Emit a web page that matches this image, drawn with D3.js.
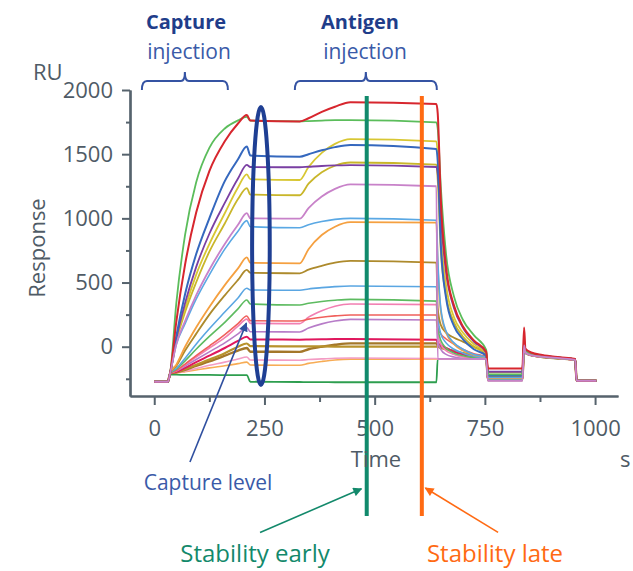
<!DOCTYPE html>
<html><head><meta charset="utf-8">
<script src="https://cdn.jsdelivr.net/npm/d3@7"></script>
<style>
html,body{margin:0;padding:0;background:#fff;}
svg{display:block;font-family:"Open Sans",sans-serif;}
</style></head><body>
<svg id="chart" width="633" height="571"></svg>
<script>
// ---- data ----
const times = [0,31,36,50,70,95,125,160,190,210,218,330,350,380,410,445,640,643,650,662,680,700,725,753,757,835,839,842,855,880,920,955,958,1003];

const greenTop   = [-273,-273,-207,337,873,1280,1549,1700,1763,1790,1762,1755,1758,1762,1765,1765,1748,1700,1250,720,390,210,90,-25,-215,-215,60,-30,-55,-70,-85,-98,-265,-265];
const redTop     = [-273,-273,-207,194,641,1044,1368,1600,1739,1805,1762,1755,1780,1830,1870,1905,1890,1820,1150,620,320,160,50,-40,-170,-170,150,-15,-45,-65,-82,-95,-265,-265];
const blueHigh   = [-273,-273,-207,80,410,720,1000,1290,1460,1560,1490,1480,1500,1530,1555,1572,1540,1450,800,380,160,60,-20,-70,-225,-225,30,-35,-58,-72,-86,-99,-265,-265];
const purpleHigh = [-273,-273,-207,60,340,620,880,1120,1310,1416,1400,1398,1402,1408,1412,1415,1400,1350,1000,580,300,150,40,-45,-195,-195,50,-30,-55,-70,-85,-98,-265,-265];
const yellowA    = [-273,-273,-207,50,300,560,800,1040,1240,1343,1305,1299,1400,1510,1580,1617,1600,1500,900,480,230,110,20,-55,-200,-200,40,-32,-56,-71,-86,-99,-265,-265];
const yellowB    = [-273,-273,-207,40,270,500,740,960,1150,1236,1185,1180,1270,1360,1410,1435,1418,1300,750,400,190,80,0,-60,-220,-220,25,-38,-60,-74,-88,-100,-265,-265];
const lightBlueA = [-273,-273,-207,15,180,370,560,760,900,982,935,927,950,975,992,1000,985,700,300,120,30,-20,-60,-85,-240,-240,15,-42,-62,-76,-89,-101,-265,-265];
const orangeA    = [-273,-273,-207,-140,0,150,310,480,610,696,654,650,760,870,935,970,966,650,280,110,20,-30,-65,-88,-245,-245,10,-44,-63,-77,-90,-101,-265,-265];
const oliveA     = [-273,-273,-207,-150,-30,100,250,400,520,598,575,572,600,630,655,668,655,300,170,110,70,40,0,-50,-235,-235,20,-40,-60,-75,-88,-100,-265,-265];
const lightBlueB = [-273,-273,-207,-170,-90,20,140,270,380,455,442,440,450,460,468,473,467,250,100,30,-20,-50,-75,-90,-250,-250,5,-46,-64,-78,-90,-102,-265,-265];
const greenMid   = [-273,-273,-207,-175,-110,-20,80,190,295,364,333,325,338,352,362,369,355,150,50,-10,-50,-70,-85,-93,-255,-255,0,-47,-65,-79,-91,-102,-265,-265];
const salmon     = [-273,-273,-207,-185,-135,-70,5,95,180,239,203,200,215,230,240,247,247,150,100,60,20,-20,-55,-80,-245,-245,10,-44,-63,-77,-90,-101,-265,-265];
const pinkMid    = [-273,-273,-207,-188,-140,-80,-10,70,160,215,182,180,230,280,315,333,328,100,20,-30,-60,-80,-90,-95,-258,-258,0,-48,-66,-80,-92,-103,-265,-265];
const violetLow  = [-273,-273,-207,-190,-150,-100,-40,30,100,150,117,115,145,178,200,213,208,50,-20,-60,-80,-90,-94,-95,-260,-260,-5,-49,-67,-80,-92,-103,-265,-265];
const crimson    = [-273,-273,-207,-195,-165,-120,-70,-10,45,78,57,55,56,58,60,60,55,30,10,-10,-40,-60,-75,-85,-250,-250,5,-46,-64,-78,-90,-102,-265,-265];
const oliveB     = [-273,-273,-207,-198,-175,-140,-100,-50,0,25,5,3,3,2,1,0,0,0,-10,-20,-35,-50,-65,-80,-255,-255,0,-47,-65,-79,-91,-102,-265,-265];
const brownLow   = [-273,-273,-207,-200,-180,-150,-115,-70,-30,-10,-39,-40,-20,0,15,26,26,10,0,-15,-35,-55,-70,-85,-258,-258,-5,-48,-66,-80,-92,-103,-265,-265];
const pinkLow    = [-273,-273,-207,-203,-190,-170,-145,-120,-95,-80,-104,-105,-100,-95,-90,-88,-92,-95,-95,-95,-95,-95,-95,-95,-262,-262,-10,-50,-67,-80,-92,-103,-265,-265];
const orangeLow  = [-273,-273,-207,-204,-195,-182,-165,-148,-132,-120,-143,-145,-130,-115,-103,-97,-96,-95,-95,-95,-95,-95,-95,-95,-262,-262,-10,-50,-67,-80,-92,-103,-265,-265];
const greenRef   = [-273,-273,-215,-218,-220,-220,-220,-221,-222,-222,-273,-275,-276,-276,-277,-277,-277,-95,-95,-95,-95,-95,-95,-95,-262,-262,-10,-50,-67,-80,-92,-103,-265,-265];
const orchid     = [-273,-273,-207,20,200,400,600,800,950,1040,1000,998,1080,1170,1230,1265,1250,-95,-95,-95,-95,-95,-95,-95,-265,-265,10,-45,-65,-78,-90,-102,-265,-265];

const seriesValues = [greenRef, orangeLow, pinkLow, brownLow, oliveB, crimson, violetLow, pinkMid, salmon, greenMid, lightBlueB, oliveA, orangeA, lightBlueA, yellowB, yellowA, purpleHigh, blueHigh, greenTop, redTop, orchid];
const seriesColors = ["#2e9e4f","#f7ac55","#f39cc4","#a4772a","#b8922c","#e0185e","#b77cc8","#f27fb2","#f0605c","#5dbb60","#5aa6e2","#ad8a2c","#f5a040","#5aa8e4","#c9b62a","#d8c733","#7a3fa3","#3568be","#5bbd5b","#d7262e","#c882c9"];
const seriesWidths = [1.8,1.6,1.6,2.4,2.2,2,1.6,1.6,1.6,1.6,1.6,1.8,1.8,1.6,1.8,1.8,1.8,2,1.8,2,1.8];

const xTicks = [0,250,500,750,1000];
const xMinorTicks = [125,375,625,875];
const yTicks = [0,500,1000,1500,2000];
const yMinorTicks = [-250,250,750,1250,1750];

const captureBracket = [-28,167];
const antigenBracket = [319,641];
const captureEllipse = {t:242, rt:20, vTop:1867, vBottom:-298};
const stabilityEarly = 482, stabilityLate = 607;
const stabilitySpan = [1953,-1319];
const captureArrow = [[81,-898],[209,184]];
const earlyArrow = [[240,-1447],[470,-1107]];
const lateArrow = [[780,-1447],[615,-1101]];

// ---- drawing ----
const svg = d3.select("#chart");
const x = d3.scaleLinear().domain([-55,1052]).range([130,618]);
const y = d3.scaleLinear().domain([-384,2000]).range([396,90]);
const axisColor = "#56636d";
const textColor = "#4f5b66";

const defs = svg.append("defs");
function marker(id,color){
  defs.append("marker").attr("id",id).attr("viewBox","0 0 10 10").attr("refX",9).attr("refY",5)
    .attr("markerWidth",11).attr("markerHeight",9).attr("markerUnits","userSpaceOnUse").attr("orient","auto")
    .append("path").attr("d","M0,0 L10,5 L0,10 Z").attr("fill",color);
}
marker("mBlue","#2f4f9f"); marker("mGreen","#13896b"); marker("mOrange","#ff6a13");

// axes
const fmt = d3.format("d");
const yMajor = d3.axisLeft(y).tickValues(yTicks).tickFormat(fmt).tickSize(8).tickSizeOuter(0).tickPadding(9);
const yMinor = d3.axisLeft(y).tickValues(yMinorTicks).tickSize(4).tickSizeOuter(0).tickFormat("");
const xMajor = d3.axisBottom(x).tickValues(xTicks).tickFormat(fmt).tickSize(9).tickSizeOuter(0).tickPadding(15);
const xMinor = d3.axisBottom(x).tickValues(xMinorTicks).tickSize(6).tickSizeOuter(0).tickFormat("");

function styleAxis(g){
  g.select(".domain").attr("stroke",axisColor).attr("stroke-width",2.2);
  g.selectAll(".tick line").attr("stroke",axisColor).attr("stroke-width",2);
  g.selectAll(".tick text").attr("fill",textColor).style("font-size","22px").style("font-family","'Open Sans',sans-serif");
}
svg.append("g").attr("transform","translate(130,0)").call(yMinor).call(styleAxis);
svg.append("g").attr("transform","translate(130,0)").call(yMajor).call(styleAxis);
svg.append("g").attr("transform","translate(0,396)").call(xMinor).call(styleAxis);
svg.append("g").attr("transform","translate(0,396)").call(xMajor).call(styleAxis);

// curves
const line = d3.line().x((d,i)=>x(times[i])).y(d=>y(d)).curve(d3.curveMonotoneX);
svg.append("g").selectAll("path").data(seriesValues).join("path")
  .attr("d",d=>line(d)).attr("fill","none")
  .attr("stroke",(d,i)=>seriesColors[i]).attr("stroke-width",(d,i)=>seriesWidths[i])
  .attr("stroke-linejoin","round");

// stability lines
svg.append("line").attr("x1",x(stabilityEarly)).attr("x2",x(stabilityEarly))
  .attr("y1",y(stabilitySpan[0])).attr("y2",y(stabilitySpan[1])).attr("stroke","#118a6c").attr("stroke-width",4);
svg.append("line").attr("x1",x(stabilityLate)).attr("x2",x(stabilityLate))
  .attr("y1",y(stabilitySpan[0])).attr("y2",y(stabilitySpan[1])).attr("stroke","#ff6a13").attr("stroke-width",4);

// capture ellipse
svg.append("ellipse")
  .attr("cx",x(captureEllipse.t)).attr("cy",(y(captureEllipse.vTop)+y(captureEllipse.vBottom))/2)
  .attr("rx",x(captureEllipse.t+captureEllipse.rt)-x(captureEllipse.t))
  .attr("ry",(y(captureEllipse.vBottom)-y(captureEllipse.vTop))/2)
  .attr("fill","none").attr("stroke","#1f3f93").attr("stroke-width",4);

// arrows
function arrow(a,color,m){
  svg.append("line").attr("x1",x(a[0][0])).attr("y1",y(a[0][1])).attr("x2",x(a[1][0])).attr("y2",y(a[1][1]))
    .attr("stroke",color).attr("stroke-width",1.6).attr("marker-end",`url(#${m})`);
}
arrow(captureArrow,"#2f4f9f","mBlue");
arrow(earlyArrow,"#13896b","mGreen");
arrow(lateArrow,"#ff6a13","mOrange");

// brackets
function bracket(b){
  const x1=x(b[0]), x2=x(b[1]), m=(x1+x2)/2, yb=81;
  const p=`M${x1},90 Q${x1},${yb} ${x1+5},${yb} L${m-4},${yb} Q${m},${yb} ${m},${yb-9} Q${m},${yb} ${m+4},${yb} L${x2-5},${yb} Q${x2},${yb} ${x2},90`;
  svg.append("path").attr("d",p).attr("fill","none").attr("stroke","#3553a3").attr("stroke-width",2);
}
bracket(captureBracket); bracket(antigenBracket);

// texts
function txt(s,xx,yy,opt){
  const t=svg.append("text").attr("x",xx).attr("y",yy).text(s)
    .attr("fill",opt.fill).style("font-size",opt.size+"px").attr("text-anchor",opt.anchor||"middle");
  if(opt.bold) t.style("font-weight","700");
  if(opt.rot) t.attr("transform",`rotate(-90,${xx},${yy})`);
  return t;
}
txt("Capture",186,29,{fill:"#1f3d8a",size:20,bold:true});
txt("injection",189,59,{fill:"#3a5aa8",size:21});
txt("Antigen",360,29,{fill:"#1f3d8a",size:20,bold:true});
txt("injection",365,59,{fill:"#3a5aa8",size:21});
txt("RU",33,80,{fill:textColor,size:22,anchor:"start"});
txt("Response",45,248,{fill:textColor,size:22,rot:true});
txt("Time",376,467,{fill:textColor,size:22});
txt("s",620,467,{fill:textColor,size:22,anchor:"start"});
txt("Capture level",208,490,{fill:"#3a5aa8",size:21});
txt("Stability early",255,562,{fill:"#13896b",size:24});
txt("Stability late",495,562,{fill:"#ff6a13",size:24});
</script>
</body></html>
